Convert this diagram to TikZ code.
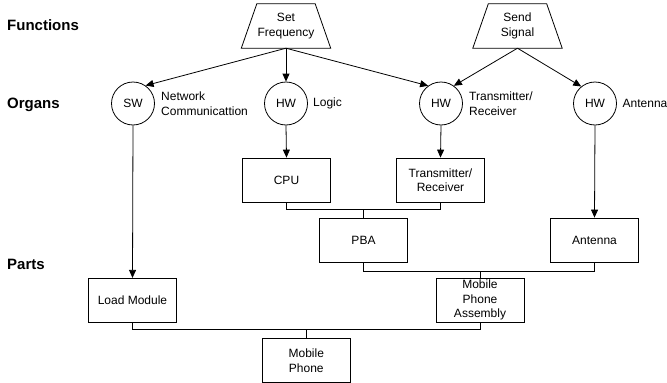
\documentclass[tikz,border=0pt]{standalone}
\usepackage{fontspec}
\setmainfont{Liberation Sans}
\usetikzlibrary{arrows.meta,calc}
\begin{document}
\begin{tikzpicture}[x=1pt,y=-1pt,
  every node/.style={font=\fontsize{12}{14.5}\selectfont, inner sep=0pt},
  link/.style={line width=0.8pt, draw=black},
  arr/.style={link, -{Triangle[length=8pt,width=7pt]}},
  part/.style={draw=black, line width=0.8pt, minimum width=88pt, minimum height=44pt, align=center},
  organ/.style={draw=black, line width=0.8pt, circle, minimum size=43pt},
  func/.style={minimum width=89pt, minimum height=44pt, align=center},
  tag/.style={anchor=west, align=left},
  level/.style={anchor=base west, font=\fontsize{15}{17}\selectfont\bfseries}]
\useasboundingbox (0,0) rectangle (667,383);

% level headings
\node[level] (lf) at (7,30.5) {Functions};
\node[level] (lo) at (7,108) {Organs};
\node[level] (lp) at (7,269) {Parts};

% functions (trapezoids)
\node[func] (sf) at (286,26) {Set\\Frequency};
\node[func] (ss) at (517.5,26) {Send\\Signal};
\foreach \f in {sf,ss}
  \draw[link] (\f.south west) -- (\f.south east) -- ([xshift=-15.5pt]\f.north east)
    -- ([xshift=15.5pt]\f.north west) -- cycle;

% organs
\node[organ] (sw)  at (133,103.5) {SW};
\node[organ] (hwl) at (286,103.5) {HW};
\node[organ] (hwt) at (441,103.5) {HW};
\node[organ] (hwa) at (595,103.5) {HW};
\node[tag] (tsw)  at (161,103.5) {Network\\Communicattion};
\node[tag] (thwl) at (313,103.5) {Logic};
\node[tag] (thwt) at (469,103.5) {Transmitter/\\Receiver};
\node[tag] (thwa) at (622.5,103.5) {Antenna};

% parts
\node[part] (cpu) at (286.5,180) {CPU};
\node[part] (trx) at (440.5,180) {Transmitter/\\Receiver};
\node[part] (pba) at (363.5,240) {PBA};
\node[part] (ant) at (594.5,240) {Antenna};
\node[part] (lm)  at (132.5,300.3) {Load Module};
\node[part] (mpa) at (480,300.3) {Mobile\\Phone\\Assembly};
\node[part] (mp)  at (306.3,360.8) {Mobile\\Phone};

% functions to organs
\draw[arr] (sf.south) -- (sw.55);
\draw[arr] (sf.south) -- (hwl.north);
\draw[arr] (sf.south) -- (hwt.126);
\draw[arr] (ss.south) -- (hwt.54);
\draw[arr] (ss.south) -- (hwa.129);

% organs to parts
\draw[arr] (sw.south)  -- (lm.north);
\draw[arr] (hwl.south) -- (cpu.north);
\draw[arr] (hwt.south) -- (trx.north);
\draw[arr] (hwa.south) -- (ant.north);

% assembly structure
\coordinate (j1) at (363.5,209.3);
\coordinate (j2) at (480,271.5);
\coordinate (j3) at (306.3,329.3);
\draw[link] (cpu.south) |- (j1) -| (trx.south);
\draw[link] (pba.north) -- (j1);
\draw[link] (pba.south) |- (j2) -| (ant.south);
\draw[link] (mpa.north) -- (j2);
\draw[link] (lm.south) |- (j3) -| (mpa.south);
\draw[link] (mp.north) -- (j3);
\end{tikzpicture}
\end{document}
